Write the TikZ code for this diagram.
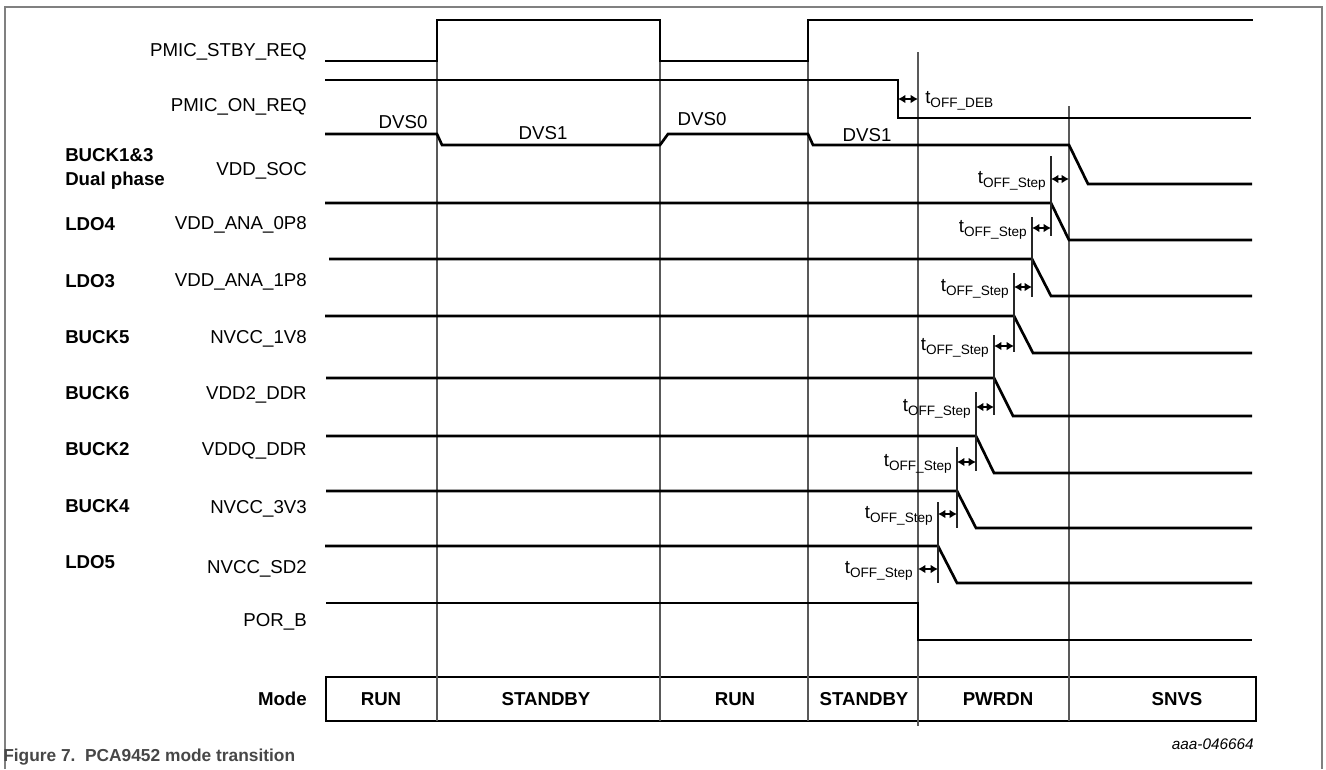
\documentclass[tikz,border=0pt]{standalone}
\usepackage{fontspec}
\setmainfont{Liberation Sans}
\usetikzlibrary{arrows.meta}
\newcommand{\tsub}[1]{t\raisebox{-2.6pt}{\fontsize{10.2}{11}\selectfont #1}}

\begin{document}
\begin{tikzpicture}[x=0.75pt,y=-0.75pt,>=Latex,
  sig/.style={line width=2pt},
  grid/.style={line width=0.8pt,black!65},
  tick/.style={line width=0.8pt,black!85},
  tarr/.style={{Latex[length=5.5pt,width=6.5pt]}-{Latex[length=5.5pt,width=6.5pt]},line width=1.5pt},
  lbl/.style={anchor=east,font=\fontsize{14}{16}\selectfont,inner sep=0pt,text height=10pt,text depth=0pt},
  grp/.style={anchor=west,font=\fontsize{14}{16}\selectfont\bfseries,inner sep=0pt,text height=10pt,text depth=0pt},
  dvs/.style={font=\fontsize{14}{16}\selectfont,inner sep=0pt,text height=10pt,text depth=0pt},
  cell/.style={font=\fontsize{14}{16}\selectfont\bfseries,inner sep=0pt,text height=10pt,text depth=0pt}]

\useasboundingbox (0,0) rectangle (1326,769);
\draw[black!50,line width=0.8pt] (5,769) -- (5,7) -- (1322,7) -- (1322,769);

% signal names
\node[lbl] (lbl_stby) at (307,50) {PMIC\_STBY\_REQ};
\node[lbl] (lbl_on) at (307,105) {PMIC\_ON\_REQ};
\node[lbl] (lbl_soc) at (307,169) {VDD\_SOC};
\node[lbl] (lbl_a08) at (307,223) {VDD\_ANA\_0P8};
\node[lbl] (lbl_a18) at (307,280) {VDD\_ANA\_1P8};
\node[lbl] (lbl_1v8) at (307,337) {NVCC\_1V8};
\node[lbl] (lbl_ddr) at (307,393) {VDD2\_DDR};
\node[lbl] (lbl_ddrq) at (307,449) {VDDQ\_DDR};
\node[lbl] (lbl_3v3) at (307,507) {NVCC\_3V3};
\node[lbl] (lbl_sd2) at (307,567) {NVCC\_SD2};
\node[lbl] (lbl_por) at (307,620) {POR\_B};
\node[lbl,font=\fontsize{14}{16}\selectfont\bfseries] (lbl_mode) at (307,699) {Mode};

% regulators
\node[grp] (grp_b13) at (65,155) {BUCK1\&3};
\node[grp] (grp_dual) at (65,179) {Dual phase};
\node[grp] (grp_ldo4) at (65,224) {LDO4};
\node[grp] (grp_ldo3) at (65,281) {LDO3};
\node[grp] (grp_b5) at (65,337) {BUCK5};
\node[grp] (grp_b6) at (65,393) {BUCK6};
\node[grp] (grp_b2) at (65,449) {BUCK2};
\node[grp] (grp_b4) at (65,506) {BUCK4};
\node[grp] (grp_ldo5) at (65,562) {LDO5};

% mode table
\draw[sig] (326,677) rectangle (1256,721);
\node[cell] (m_run1) at (381,699) {RUN};
\node[cell] (m_stby1) at (546,699) {STANDBY};
\node[cell] (m_run2) at (735,699) {RUN};
\node[cell] (m_stby2) at (864,699) {STANDBY};
\node[cell] (m_pwrdn) at (998,699) {PWRDN};
\node[cell] (m_snvs) at (1177,699) {SNVS};

% mode boundaries
\draw[grid] (437,20) -- (437,721);
\draw[grid] (660,20) -- (660,721);
\draw[grid] (808,20) -- (808,721);
\draw[grid] (918,52) -- (918,726);
\draw[grid] (1069,106) -- (1069,721);

% waveforms
\draw[sig] (325,61) -- (437,61) -- (437,20) -- (660,20) -- (660,61) -- (808,61) -- (808,20) -- (1253,20);
\draw[sig] (325,80) -- (898,80) -- (898,118) -- (1251,118);
\draw[sig] (325,134) -- (437,134) -- (442,145) -- (660,145) -- (668,134) -- (808,134) -- (813,145) -- (1069,145) -- (1088,184) -- (1252,184);
\draw[sig] (325,203) -- (1051,203) -- (1069,240) -- (1252,240);
\draw[sig] (329,259) -- (1032,259) -- (1051,296) -- (1252,296);
\draw[sig] (325,316) -- (1014,316) -- (1033,353) -- (1252,353);
\draw[sig] (326,378) -- (994,378) -- (1013,416) -- (1252,416);
\draw[sig] (326,436) -- (976,436) -- (994,473) -- (1252,473);
\draw[sig] (326,491) -- (957,491) -- (976,528) -- (1252,528);
\draw[sig] (325,546) -- (938,546) -- (957,583) -- (1252,583);
\draw[sig] (326,603) -- (918,603) -- (918,640) -- (1252,640);

% DVS levels
\node[dvs] (dvs0a) at (403,122) {DVS0};
\node[dvs] (dvs1a) at (543,133) {DVS1};
\node[dvs] (dvs0b) at (702,119) {DVS0};
\node[dvs] (dvs1b) at (867,135) {DVS1};

% power-down sequence timing
\draw[tick] (1051,156) -- (1051,236);
\draw[tick] (1032,217) -- (1032,297);
\draw[tick] (1014,273) -- (1014,352);
\draw[tick] (994,335) -- (994,415);
\draw[tick] (976,392) -- (976,471);
\draw[tick] (957,447) -- (957,528);
\draw[tick] (938,502) -- (938,583);

\draw[tarr] (898,99) -- (918,99);
\node[lbl,anchor=west] (t_deb) at (925,97) {\tsub{OFF\_DEB}};
\draw[tarr] (1051,179) -- (1069,179);
\node[lbl] (t_st1) at (1046,177) {\tsub{OFF\_Step}};
\draw[tarr] (1032,228) -- (1051,228);
\node[lbl] (t_st2) at (1027,226) {\tsub{OFF\_Step}};
\draw[tarr] (1014,287) -- (1032,287);
\node[lbl] (t_st3) at (1009,285) {\tsub{OFF\_Step}};
\draw[tarr] (994,346) -- (1014,346);
\node[lbl] (t_st4) at (989,344) {\tsub{OFF\_Step}};
\draw[tarr] (976,407) -- (994,407);
\node[lbl] (t_st5) at (971,405) {\tsub{OFF\_Step}};
\draw[tarr] (957,462) -- (976,462);
\node[lbl] (t_st6) at (952,460) {\tsub{OFF\_Step}};
\draw[tarr] (938,514) -- (957,514);
\node[lbl] (t_st7) at (933,512) {\tsub{OFF\_Step}};
\draw[tarr] (918,569) -- (938,569);
\node[lbl] (t_st8) at (913,567) {\tsub{OFF\_Step}};

% caption
\node[anchor=east,font=\fontsize{11.5}{13}\selectfont\itshape,inner sep=0pt] (fig_id) at (1254,744) {aaa-046664};
\node[anchor=west,font=\fontsize{13}{15}\selectfont\bfseries,text=black!72,inner sep=0pt] (fig_cap) at (3,757) {Figure 7.\ \ PCA9452 mode transition};
\end{tikzpicture}
\end{document}
